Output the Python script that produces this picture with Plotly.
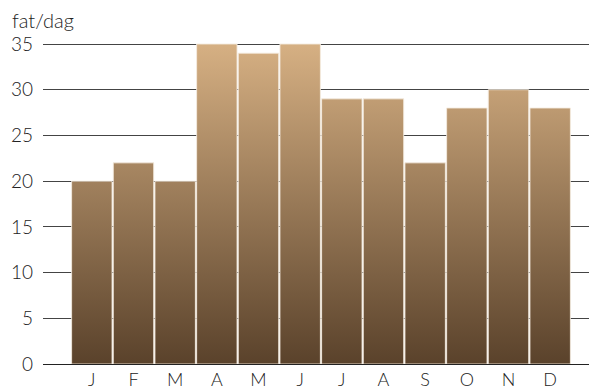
import plotly.graph_objects as go

months = ["J", "F", "M", "A", "M", "J", "J", "A", "S", "O", "N", "D"]
values = [20, 22, 20, 35, 34, 35, 29, 29, 22, 28, 30, 28]
y_ticks = [0, 5, 10, 15, 20, 25, 30, 35]
unit_label = "fat/dag"
title_text = "Oljeproduktion"

FONT = "Lato, 'Open Sans', sans-serif"
half = 0.485

fig = go.Figure()
for i, v in enumerate(values):
    x0, x1 = i - half, i + half
    fig.add_trace(go.Scatter(
        x=[x0, x0, x1, x1, x0],
        y=[0, v, v, 0, 0],
        mode="lines",
        fill="toself",
        line=dict(color="rgba(245,236,224,0.85)", width=1),
        fillgradient=dict(
            type="vertical",
            colorscale=[[0, "#5a422b"], [1, "#d6b083"]],
            start=0, stop=35,
        ),
        hoverinfo="skip",
        showlegend=False,
    ))

TF = dict(family=FONT, size=19, color="#222", weight=300)

fig.update_layout(
    width=589, height=392,
    margin=dict(l=43, r=0, t=42, b=28, autoexpand=False),
    paper_bgcolor="white", plot_bgcolor="white",
    font=dict(family=FONT, size=19, color="#222"),
    showlegend=False,
    xaxis=dict(
        range=[-1.172, 11.932],
        tickvals=list(range(len(months))),
        ticktext=months,
        showgrid=False, zeroline=False, showline=False,
        ticks="", ticklabelstandoff=3, automargin=False,
        tickfont=dict(family=FONT, size=18, color="#222", weight=300),
        fixedrange=True,
    ),
    yaxis=dict(
        range=[0, 35.22],
        tickvals=y_ticks,
        showgrid=True, gridcolor="#444", gridwidth=1,
        zeroline=True, zerolinecolor="#222", zerolinewidth=1,
        showline=False, ticks="", ticklabelstandoff=9, automargin=False,
        tickfont=TF,
        fixedrange=True,
    ),
    annotations=[
        dict(text=unit_label, xref="paper", yref="paper",
             x=-43/546 + 10/546, y=1 + 8/322, xanchor="left", yanchor="bottom",
             showarrow=False, font=dict(family=FONT, size=20, color="#222", weight=300)),
        dict(text="<b>" + title_text + "</b>", xref="paper", yref="paper",
             x=(243 - 43) / 546, y=1 + 42.5/322, xanchor="center", yanchor="bottom",
             showarrow=False, font=dict(family=FONT, size=18, color="#222")),
    ],
)

fig.write_html("out.html")
